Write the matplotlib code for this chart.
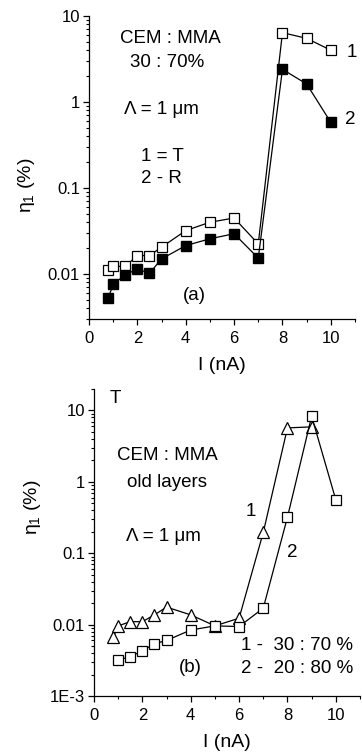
import matplotlib
matplotlib.use("Agg")
import matplotlib.pyplot as plt
from matplotlib.ticker import FixedLocator, FuncFormatter, LogLocator, NullFormatter

plt.rcParams['font.family'] = ['Liberation Sans', 'DejaVu Sans']
plt.rcParams['mathtext.fontset'] = 'custom'
plt.rcParams['mathtext.rm'] = 'Liberation Sans'
plt.rcParams['mathtext.it'] = 'Liberation Sans'

# (a) CEM:MMA 30:70, transmitted (1) and reflected (2)
a_current = [0.8, 1.0, 1.5, 2.0, 2.5, 3.0, 4.0, 5.0, 6.0, 7.0, 8.0, 9.0, 10.0]
a_trans = [0.011, 0.0123, 0.0123, 0.0164, 0.0164, 0.0205, 0.032, 0.040, 0.0448, 0.0224, 6.4, 5.5, 4.0]
a_refl = [0.0053, 0.0076, 0.0098, 0.0114, 0.0102, 0.015, 0.0214, 0.0257, 0.0294, 0.0153, 2.4, 1.62, 0.58]

# (b) old layers, transmission for two compositions
b1_current = [0.8, 1.0, 1.5, 2.0, 2.5, 3.0, 4.0, 5.0, 6.0, 7.0, 8.0, 9.0]
b1_eff = [0.0067, 0.0096, 0.011, 0.011, 0.0137, 0.0176, 0.0137, 0.0096, 0.0123, 0.196, 5.7, 5.9]
b2_current = [1.0, 1.5, 2.0, 2.5, 3.0, 4.0, 5.0, 6.0, 7.0, 8.0, 9.0, 10.0]
b2_eff = [0.0032, 0.00356, 0.0043, 0.0054, 0.006, 0.0084, 0.0096, 0.0094, 0.017, 0.32, 8.3, 0.56]

log_labels = {10: '10', 1: '1', 0.1: '0.1', 0.01: '0.01', 0.001: '1E-3'}


def fmt_log(v, pos):
    for k, s in log_labels.items():
        if abs(v - k) < k * 1e-6:
            return s
    return ''


def style_axes(ax, ymin, ymax):
    ax.set_yscale('log')
    ax.set_xlim(0, 11)
    ax.set_ylim(ymin, ymax)
    for s in ('top', 'right'):
        ax.spines[s].set_visible(False)
    for s in ('left', 'bottom'):
        ax.spines[s].set_linewidth(0.9)
    ax.xaxis.set_major_locator(FixedLocator([0, 2, 4, 6, 8, 10]))
    ax.xaxis.set_minor_locator(FixedLocator([1, 3, 5, 7, 9, 11]))
    ax.yaxis.set_major_locator(LogLocator(base=10, numticks=20))
    ax.yaxis.set_minor_locator(LogLocator(base=10, subs=range(2, 10), numticks=20))
    ax.yaxis.set_major_formatter(FuncFormatter(fmt_log))
    ax.yaxis.set_minor_formatter(NullFormatter())
    ax.tick_params(which='major', direction='out', length=4, width=0.9, labelsize=12)
    ax.tick_params(which='minor', direction='out', length=2.3, width=0.8)
    ax.tick_params(axis='x', which='major', pad=4.5)
    ax.tick_params(axis='y', which='major', pad=2.5)


fig = plt.figure(figsize=(3.62, 7.53), dpi=100)

# panel (a)
ax1 = fig.add_axes([89 / 362, 1 - 319 / 753, 266 / 362, 303 / 753])
style_axes(ax1, 0.003, 10)
ax1.plot(a_current, a_trans, '-s', color='black', lw=0.9, ms=7.5, mfc='white', mec='black', mew=0.9)
ax1.plot(a_current, a_refl, '-s', color='black', lw=0.9, ms=7.5, mfc='black', mec='black')
ax1.set_xlabel('I (nA)', fontsize=14)
ax1.xaxis.set_label_coords(0.5, -0.125)
ax1.set_ylabel(r'$\eta_1$ (%)', fontsize=14)
ax1.yaxis.set_label_coords(-0.195, 0.44)

txt = dict(transform=ax1.transAxes, ha='center', va='center', fontsize=13.5)
ax1.text(0.305, 0.927, 'CEM : MMA', **txt)
ax1.text(0.293, 0.845, '30 : 70%', **txt)
ax1.text(0.274, 0.693, '\u039b = 1 \u03bcm', **txt)
ax1.text(0.274, 0.536, '1 = T', **txt)
ax1.text(0.274, 0.465, '2 - R', **txt)
ax1.text(0.395, 0.079, '(a)', **txt)
ax1.text(0.989, 0.881, '1', clip_on=False, **txt)
ax1.text(0.981, 0.657, '2', clip_on=False, **txt)

# panel (b)
ax2 = fig.add_axes([94 / 362, 1 - 696 / 753, 266 / 362, 307 / 753])
style_axes(ax2, 0.001, 20)
ax2.plot(b1_current, b1_eff, '-^', color='black', lw=0.9, ms=8.5, mfc='white', mec='black', mew=0.9)
ax2.plot(b2_current, b2_eff, '-s', color='black', lw=0.9, ms=7, mfc='white', mec='black', mew=0.9)
ax2.set_xlabel('I (nA)', fontsize=14)
ax2.xaxis.set_label_coords(0.5, -0.125)
ax2.set_ylabel(r'$\eta_1$ (%)', fontsize=14)
ax2.yaxis.set_label_coords(-0.19, 0.616)

txt = dict(transform=ax2.transAxes, ha='center', va='center', fontsize=13.5)
ax2.text(0.082, 0.97, 'T', **txt)
ax2.text(0.276, 0.785, 'CEM : MMA', **txt)
ax2.text(0.276, 0.694, 'old layers', **txt)
ax2.text(0.261, 0.52, '\u039b = 1 \u03bcm', **txt)
ax2.text(0.59, 0.60, '1', **txt)
ax2.text(0.746, 0.469, '2', **txt)
ax2.text(0.362, 0.094, '(b)', **txt)
ax2.text(0.552, 0.166, '1 -  30 : 70 %', transform=ax2.transAxes, ha='left', va='center', fontsize=13.5)
ax2.text(0.552, 0.091, '2 -  20 : 80 %', transform=ax2.transAxes, ha='left', va='center', fontsize=13.5)

fig.savefig('out.png', dpi=100)
